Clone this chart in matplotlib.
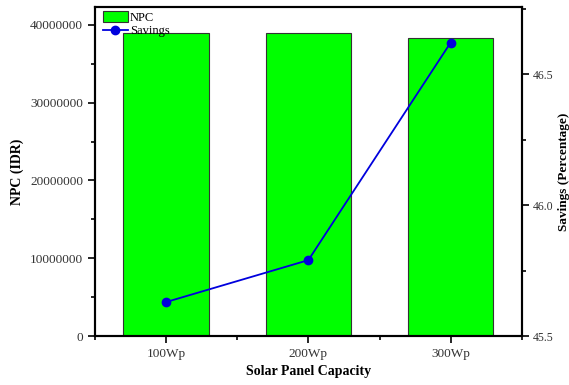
import matplotlib.pyplot as plt
from matplotlib.ticker import MultipleLocator, FormatStrFormatter

# Daten
kapazitaet = ['100Wp', '200Wp', '300Wp']
npc = [39000000, 38900000, 38300000]
savings = [45.63, 45.79, 46.62]

plt.rcParams['font.family'] = 'Liberation Serif'

fig = plt.figure(figsize=(5.69, 3.85), dpi=100)
ax = fig.add_axes([0.167, 0.127, 0.750, 0.855])

x = list(range(len(kapazitaet)))
balken = ax.bar(x, npc, width=0.6, color='#00ff00', edgecolor='#333333',
                linewidth=0.8, label='NPC')
ax.set_xlim(-0.5, 2.5)
ax.set_ylim(0, 42300000)
ax.set_xticks(x)
ax.set_xticklabels(kapazitaet)
ax.xaxis.set_minor_locator(MultipleLocator(0.5))
ax.yaxis.set_major_locator(MultipleLocator(10000000))
ax.yaxis.set_minor_locator(MultipleLocator(5000000))
ax.yaxis.set_major_formatter(FormatStrFormatter('%d'))
ax.set_xlabel('Solar Panel Capacity', fontsize=10, fontweight='bold')
ax.set_ylabel('NPC (IDR)', fontsize=10, fontweight='bold')
ax.yaxis.set_label_coords(-0.166, 0.5)

# zweite Achse rechts für die Einsparungen
ax2 = ax.twinx()
linie, = ax2.plot(x, savings, color='#0000dd', marker='o', markersize=6,
                  linewidth=1.3, label='Savings')
ax2.set_ylim(45.5, 46.756)
ax2.yaxis.set_major_locator(MultipleLocator(0.5))
ax2.yaxis.set_minor_locator(MultipleLocator(0.25))
ax2.yaxis.set_major_formatter(FormatStrFormatter('%.1f'))
ax2.set_ylabel('Savings (Percentage)', fontsize=9.5, fontweight='bold',
               rotation=90)
ax2.yaxis.set_label_coords(1.086, 0.5)

for a in (ax, ax2):
    for s in a.spines.values():
        s.set_linewidth(1.5)
    a.tick_params(which='both', direction='out', width=1.2, colors='black',
                  labelcolor='#333333', labelsize=9.5)
    a.tick_params(which='major', length=5)
    a.tick_params(which='minor', length=3)
ax2.tick_params(axis='y', labelsize=8.5, pad=3)

ax.legend([balken, linie], ['NPC', 'Savings'], loc='upper left',
          bbox_to_anchor=(0.0, 1.01), frameon=False, fontsize=9,
          handlelength=2.0, handleheight=0.9, labelspacing=0.1,
          borderaxespad=0.2, handletextpad=0.2)

plt.savefig('out.png', dpi=100)
